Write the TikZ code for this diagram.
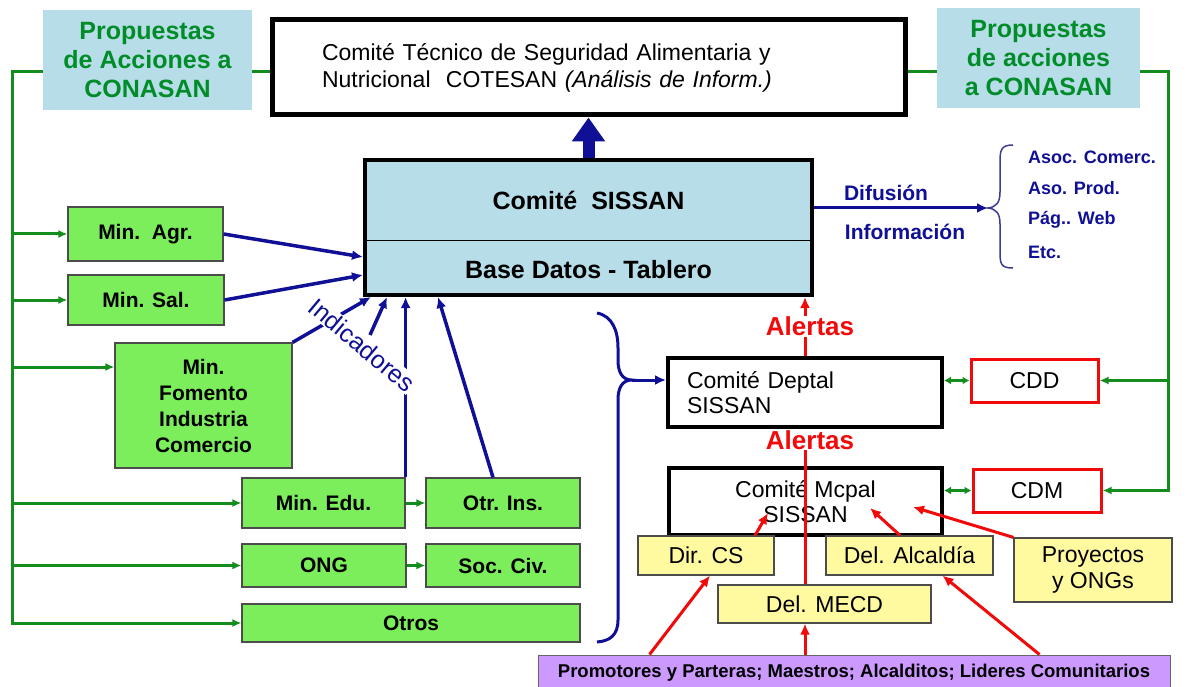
\documentclass[tikz,border=0pt]{standalone}
\usepackage{fontspec}
\setmainfont{Liberation Sans}
\usetikzlibrary{arrows.meta}

\definecolor{celeste}{RGB}{183,221,232}
\definecolor{verde}{RGB}{124,238,92}
\definecolor{verdeosc}{RGB}{20,140,30}
\definecolor{verdetxt}{RGB}{0,140,40}
\definecolor{azul}{RGB}{16,16,150}
\definecolor{rojo}{RGB}{240,10,10}
\definecolor{amarillo}{RGB}{255,250,160}
\definecolor{lila}{RGB}{204,153,255}

\begin{document}
\begin{tikzpicture}[x=1pt,y=-1pt,
  gbox/.style={draw=black!70, line width=1.2pt, fill=verde, inner sep=0pt, align=center, font=\fontsize{21}{26}\selectfont\bfseries},
  ybox/.style={draw=black!70, line width=1.2pt, fill=amarillo, inner sep=0pt, align=center, font=\fontsize{23}{26}\selectfont},
  kbox/.style={draw=black, line width=4pt, fill=white, inner sep=0pt},
  rbox/.style={draw=rojo, line width=3pt, fill=white, inner sep=0pt, font=\fontsize{23}{26}\selectfont},
  prop/.style={fill=celeste, inner sep=0pt, align=center, text=verdetxt, font=\fontsize{25}{29}\selectfont\bfseries},
  gline/.style={draw=verdeosc, line width=3pt},
  garrow/.style={gline, -{Latex[length=9pt,width=8pt]}},
  gdouble/.style={gline, {Latex[length=7pt,width=8pt]}-{Latex[length=7pt,width=8pt]}},
  barrow/.style={draw=azul, line width=3.5pt, -{Latex[length=11pt,width=10pt]}},
  rarrow/.style={draw=rojo, line width=3pt, -{Latex[length=11pt,width=10pt]}},
  alerta/.style={fill=white, text=rojo, inner sep=1pt, font=\fontsize{26}{28}\selectfont\bfseries},
  azultxt/.style={text=azul, inner sep=0pt, font=\fontsize{21}{24}\selectfont\bfseries},
  lista/.style={text=azul, inner sep=0pt, anchor=west, font=\fontsize{18}{20}\selectfont\bfseries},
]
\path[use as bounding box, fill=white] (0,0) rectangle (1194,687);

\node[prop, minimum width=209, minimum height=100] (propI) at (147.5,60) {Propuestas\\de Acciones a\\CONASAN};
\node[prop, minimum width=203, minimum height=100] (propD) at (1038.5,58) {Propuestas\\de acciones\\a CONASAN};
\node[kbox, line width=5pt, minimum width=633, minimum height=95, text width=533, align=left, font=\fontsize{23}{27}\selectfont] (cotesan) at (588.5,67.5) {Comité Técnico de Seguridad Alimentaria y\\Nutricional~~COTESAN \textit{(Análisis de Inform.)}};

\node[kbox, fill=celeste, minimum width=447, minimum height=135] (sissan) at (588.5,227.5) {};
\draw[line width=1pt] ([yshift=-13.5pt]sissan.west) -- ([yshift=-13.5pt]sissan.east);
\node[font=\fontsize{25}{28}\selectfont\bfseries] (comite) at (588.5,200) {Comité~~SISSAN};
\node[font=\fontsize{25}{28}\selectfont\bfseries] (tablero) at (588.5,270) {Base Datos - Tablero};
\draw[draw=azul, line width=12pt, -{Triangle[length=24pt,width=32pt]}] (sissan.north) -- (cotesan.south);

\coordinate (llave) at (988,208);
\draw[barrow, line width=3pt] ([yshift=19.5pt]sissan.east) -- (llave);
\node[azultxt] (dif) at (886,193) {Difusión};
\node[azultxt] (inf) at (905,232) {Información};
\draw[draw=azul!60!gray, line width=1.5pt] (1013,145) .. controls (1001,145) and (1000,150) .. (1000,162) -- (1000,192) .. controls (1000,203) and (996,207) .. (llave) .. controls (996,209) and (1000,213) .. (1000,224) -- (1000,252) .. controls (1000,264) and (1001,268) .. (1013,268);
\node[lista] (asoc) at (1028,157) {Asoc. Comerc.};
\node[lista] (prod) at (1028,188) {Aso. Prod.};
\node[lista] (web) at (1028,220) {Pág.. Web};
\node[lista] (etc) at (1028,252) {Etc.};

\node[gbox, minimum width=155, minimum height=54] (agr) at (145.5,234) {Min.~~Agr.};
\node[gbox, minimum width=156, minimum height=50] (sal) at (146,300) {Min. Sal.};
\node[gbox, minimum width=177, minimum height=125] (fom) at (203.5,405.5) {Min.\\Fomento\\Industria\\Comercio};
\node[gbox, minimum width=163, minimum height=50] (edu) at (323.5,503) {Min. Edu.};
\node[gbox, minimum width=154, minimum height=50] (otr) at (503,503) {Otr. Ins.};
\node[gbox, minimum width=164, minimum height=43] (ong) at (324,565.5) {ONG};
\node[gbox, minimum width=154, minimum height=43] (soc) at (503,565.5) {Soc. Civ.};
\node[gbox, minimum width=338, minimum height=38] (otros) at (411,623) {Otros};

\node[kbox, minimum width=274, minimum height=69, text width=236, align=left, font=\fontsize{23}{25}\selectfont] (deptal) at (805,392.5) {Comité Deptal\\SISSAN};
\node[kbox, minimum width=273, minimum height=67, align=center, font=\fontsize{23}{25}\selectfont] (mcpal) at (805.5,501.5) {Comité Mcpal\\SISSAN};
\node[rbox, minimum width=127, minimum height=43] (cdd) at (1034.5,380.5) {CDD};
\node[rbox, minimum width=128, minimum height=43] (cdm) at (1037,490.5) {CDM};

\coordinate (ejeI) at (12,72);
\coordinate (ejeD) at (1168,72);
\coordinate (fomA) at ([yshift=38.5pt]fom.west);
\draw[garrow] (propI.west |- ejeI) -- (ejeI) |- (otros.west);
\draw[gline] (propI.east |- ejeI) -- (cotesan.west |- ejeI);
\draw[gline] (cotesan.east |- ejeD) -- (propD.west |- ejeD);
\draw[garrow] (propD.east |- ejeD) -- (ejeD) |- (cdm.east);
\draw[garrow] (ejeD |- cdd.east) -- (cdd.east);
\draw[garrow] (ejeI |- agr.west) -- (agr.west);
\draw[garrow] (ejeI |- sal.west) -- (sal.west);
\draw[garrow] (ejeI |- fomA) -- (fomA);
\draw[garrow] (ejeI |- edu.west) -- (edu.west);
\draw[garrow] (ejeI |- ong.west) -- (ong.west);
\draw[garrow] (edu.east) -- (otr.west);
\draw[garrow] (ong.east) -- (soc.west);
\draw[gdouble] (cdd.west -| deptal.east) -- (cdd.west);
\draw[gdouble] (cdm.west -| mcpal.east) -- (cdm.west);

\coordinate (indA) at (370,335);
\draw[barrow] (agr.east) -- ([yshift=-29.5pt]sissan.west);
\draw[barrow] (sal.east) -- ([yshift=-47.5pt]sissan.west);
\draw[barrow] (fom.north east) -- ([xshift=8pt]sissan.south west);
\draw[barrow] (indA) -- ([xshift=24pt]sissan.south west);
\draw[barrow] (edu.north east) -- (edu.north east |- sissan.south);
\draw[barrow] ([xshift=-10pt]otr.north) -- ([xshift=75pt]sissan.south west);
\node[rotate=-40, fill=white, text=azul, inner sep=1pt, font=\fontsize{25}{27}\selectfont] (ind) at (362,345) {Indicadores};

\coordinate (punta) at (632,380);
\draw[draw=azul, line width=3pt] (597,313) .. controls (612,316) and (618,330) .. (618,348) -- (618,360) .. controls (618,372) and (622,380) .. (punta) .. controls (622,380) and (618,388) .. (618,400) -- (618,620) .. controls (618,635) and (610,641) .. (597,642);
\draw[barrow, line width=3pt] (punta) -- (punta -| deptal.west);

\node[ybox, minimum width=136, minimum height=39] (dircs) at (706,555.5) {Dir. CS};
\node[ybox, minimum width=167, minimum height=39] (alc) at (909.5,555.5) {Del. Alcaldía};
\node[ybox, minimum width=213, minimum height=38] (mecd) at (824.5,604) {Del. MECD};
\node[ybox, minimum width=158, minimum height=64] (proy) at (1093,570) {Proyectos\\y ONGs};
\node[draw=black!60, line width=1pt, fill=lila, minimum width=632, minimum height=36, inner sep=0pt, font=\fontsize{18.5}{20}\selectfont\bfseries] (comunidad) at (854,673) {Promotores y Parteras; Maestros; Alcalditos; Lideres Comunitarios};

\draw[rarrow] (deptal.north) -- (deptal.north |- sissan.south) node[alerta, midway, xshift=5pt] {Alertas};
\draw[rarrow] (deptal.south |- mecd.north) -- (deptal.south) node[alerta, pos=.93, xshift=5pt] {Alertas};
\draw[rarrow] ([xshift=49pt]dircs.north) -- ([xshift=-37.5pt,yshift=-11.5pt]mcpal.center);
\draw[rarrow] ([xshift=-9.5pt]alc.north) -- ([xshift=64.5pt,yshift=-6.5pt]mcpal.center);
\draw[rarrow] (proy.north west) -- ([xshift=107.5pt,yshift=-5.5pt]mcpal.center);
\draw[rarrow] ([xshift=112pt]comunidad.north west) -- ([xshift=4pt]dircs.south);
\draw[rarrow] (deptal.south |- comunidad.north) -- (deptal.south |- mecd.south);
\draw[rarrow] ([xshift=502pt]comunidad.north west) -- ([xshift=33pt]alc.south);
\end{tikzpicture}
\end{document}
